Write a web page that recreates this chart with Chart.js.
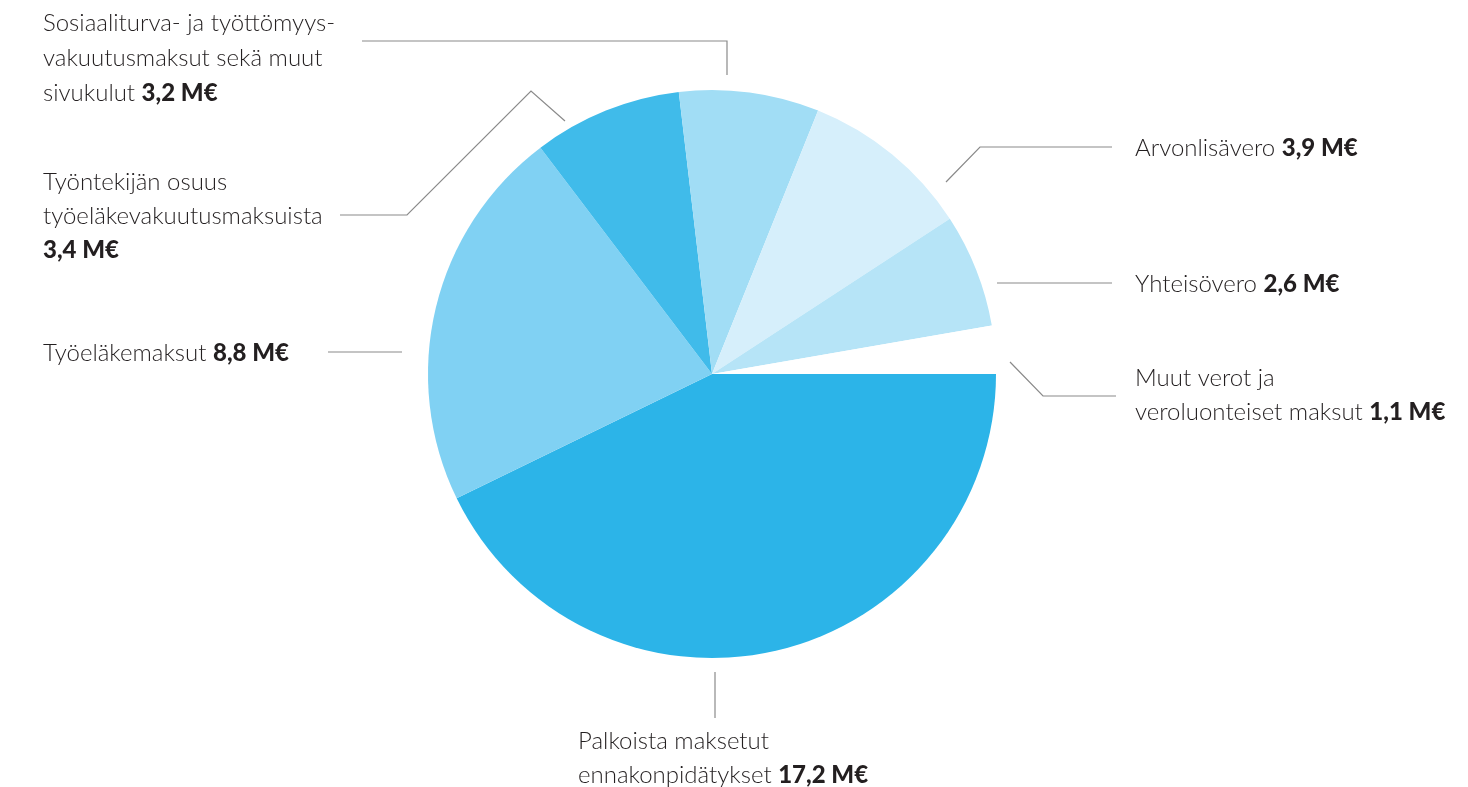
<!DOCTYPE html>
<html>
<head>
<meta charset="utf-8">
<script src="https://cdn.jsdelivr.net/npm/chart.js@4.4.1/dist/chart.umd.min.js"></script>
<style>
  html, body { margin: 0; padding: 0; background: #fff; }
  #wrap { width: 1468px; height: 787px; position: relative; }
</style>
</head>
<body>
<div id="wrap"><canvas id="pieChart"></canvas></div>
<script>
// data, clockwise from 3 o'clock
const categories = [
  'Palkoista maksetut ennakonpidätykset',
  'Työeläkemaksut',
  'Työntekijän osuus työeläkevakuutusmaksuista',
  'Sosiaaliturva- ja työttömyysvakuutusmaksut sekä muut sivukulut',
  'Arvonlisävero',
  'Yhteisövero',
  'Muut verot ja veroluonteiset maksut'
];
const values = [17.2, 8.8, 3.4, 3.2, 3.9, 2.6, 1.1];
const labelLines = [
  ['Palkoista maksetut', 'ennakonpidätykset'],
  ['Työeläkemaksut'],
  ['Työntekijän osuus', 'työeläkevakuutusmaksuista', ''],
  ['Sosiaaliturva- ja työttömyys-', 'vakuutusmaksut sekä muut', 'sivukulut'],
  ['Arvonlisävero'],
  ['Yhteisövero'],
  ['Muut verot ja', 'veroluonteiset maksut']
];
const sliceColors = ['#2cb4e8', '#80d1f3', '#40bbea', '#a1ddf5', '#d6effb', '#b6e4f7', '#ffffff'];

// label placement: first baseline, line step, leader polyline
const labelLayout = [
  { x: 578, y: 749, step: 34, leader: [[715, 672], [715, 718]] },
  { x: 43, y: 361, step: 34, leader: [[328, 352], [402, 352]] },
  { x: 43, y: 190, step: 34, leader: [[340, 215], [407, 215], [531, 91], [565, 121]] },
  { x: 43, y: 31, step: 35, leader: [[362, 41], [727, 41], [727, 75]] },
  { x: 1135, y: 156, step: 34, leader: [[1112, 147], [980, 147], [946, 182]] },
  { x: 1135, y: 292, step: 34, leader: [[1112, 283], [997, 283]] },
  { x: 1135, y: 386, step: 34, leader: [[1116, 396], [1043, 396], [1010, 362]] }
];

const FONT = 'Lato, "Open Sans", sans-serif';

function fmt(v) {
  return v.toFixed(1).replace('.', ',') + ' M€';
}

const calloutPlugin = {
  id: 'callouts',
  afterDraw(chart) {
    const c = chart.ctx;
    c.save();
    labelLayout.forEach((lay, i) => {
      // leader line
      c.strokeStyle = '#8a8a8a';
      c.lineWidth = 1.2;
      c.beginPath();
      lay.leader.forEach((p, k) => k ? c.lineTo(p[0], p[1]) : c.moveTo(p[0], p[1]));
      c.stroke();

      // text
      c.fillStyle = '#231f20';
      c.textBaseline = 'alphabetic';
      c.textAlign = 'left';
      const lines = labelLines[i];
      lines.forEach((txt, k) => {
        const y = lay.y + k * lay.step;
        c.font = '300 24px ' + FONT;
        c.fillText(txt, lay.x, y);
        if (k === lines.length - 1) {
          const w = txt ? c.measureText(txt + ' ').width : 0;
          c.font = '900 24px ' + FONT;
          c.fillText(fmt(values[i]), lay.x + w, y);
        }
      });
    });
    c.restore();
  }
};

const ctx = document.getElementById('pieChart').getContext('2d');
const pieChart = new Chart(ctx, {
  type: 'pie',
  data: {
    labels: categories,
    datasets: [{
      data: values,
      backgroundColor: sliceColors,
      borderWidth: 0
    }]
  },
  options: {
    responsive: true,
    maintainAspectRatio: false,
    animation: false,
    rotation: 90,
    layout: {
      padding: { top: 90, bottom: 129, left: 428, right: 472 }
    },
    plugins: {
      legend: { display: false },
      tooltip: { enabled: false }
    }
  },
  plugins: [calloutPlugin]
});
</script>
</body>
</html>
